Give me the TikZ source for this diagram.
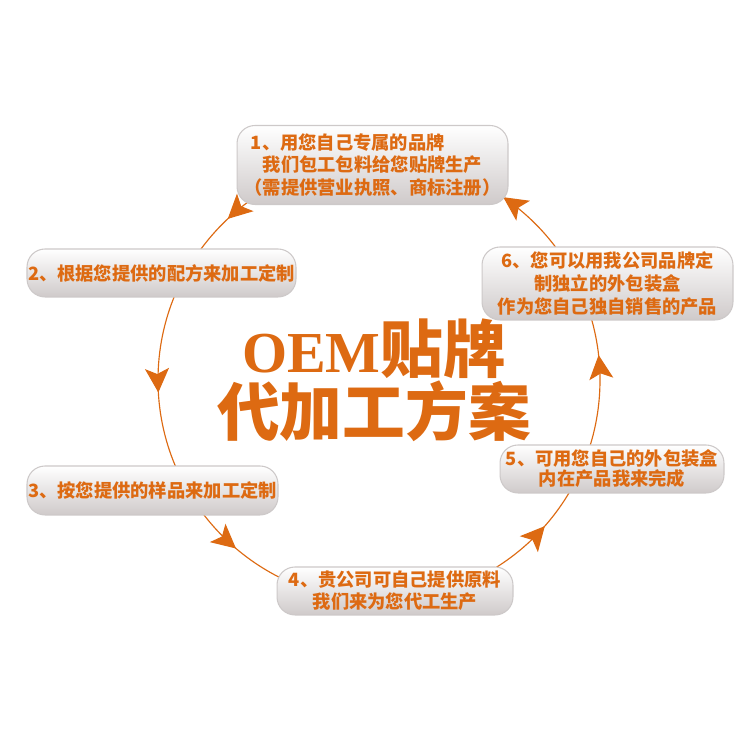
\documentclass[tikz,border=0pt]{standalone}
\usepackage{fontspec}
\setmainfont{Noto Sans CJK SC}
\newfontfamily\latinserif{Liberation Serif}
\usepackage{tikz}
\usetikzlibrary{positioning,arrows.meta,decorations.markings}
\definecolor{oemorange}{HTML}{DD6A12}
\definecolor{oemgray}{HTML}{CFCACA}
\definecolor{oemedge}{HTML}{CDC9C9}

\begin{document}
\begin{tikzpicture}[
    x=0.02cm, y=0.02cm,
    >={Stealth[length=0.48cm, width=0.48cm, inset=0.11cm]},
    % Estilos
    box/.style={draw=oemedge, line width=0.6pt, rounded corners=0.36cm, top color=white, bottom color=oemgray, inner sep=0pt, align=center, text=oemorange, font=\fontsize{10.4}{12.6}\selectfont\bfseries},
    ring/.style={draw=oemorange, line width=0.65pt},
    title/.style={text=oemorange, align=center, inner sep=0pt, font=\fontsize{35.7}{34.6}\selectfont\bfseries}
]
\useasboundingbox[fill=white] (0,0) rectangle (750,750);

% --- CIRCULO (conexiones) ---
\coordinate (c) at (379,370);
\draw[ring, postaction={decorate}, decoration={markings,
    mark=at position 0.018 with {\arrow[oemorange]{>}},
    mark=at position 0.155 with {\arrow[oemorange]{>}},
    mark=at position 0.370 with {\arrow[oemorange]{>}},
    mark=at position 0.509 with {\arrow[oemorange]{>}},
    mark=at position 0.638 with {\arrow[oemorange]{>}},
    mark=at position 0.885 with {\arrow[oemorange]{>}}}]
    (c) circle[radius=221];

% --- PASOS (nodos) ---
\node[box, minimum width=5.42cm, minimum height=1.58cm] (s1) at (372.5,585)
    {1、用您自己专属的品牌\hspace*{2.7em}\\我们包工包料给您贴牌生产\\（需提供营业执照、商标注册）};
\node[box, minimum width=5.38cm, minimum height=0.96cm] (s2) at (161.5,477)
    {2、根据您提供的配方来加工定制};
\node[box, minimum width=5.02cm, minimum height=0.98cm] (s3) at (152.5,259.5)
    {3、按您提供的样品来加工定制};
\node[box, minimum width=4.72cm, minimum height=0.96cm] (s4) at (395,159)
    {4、贵公司可自己提供原料\\我们来为您代工生产};
\node[box, minimum width=4.48cm, minimum height=0.96cm, font=\fontsize{10.4}{11.4}\selectfont\bfseries] (s5) at (612,281)
    {5、可用您自己的外包装盒\\内在产品我来完成};
\node[box, minimum width=5.02cm, minimum height=1.46cm, font=\fontsize{10.4}{13}\selectfont\bfseries] (s6) at (607.5,466.5)
    {6、您可以用我公司品牌定\\制独立的外包装盒\\作为您自己独自销售的产品};

% --- TITULO ---
\node[title] (t) at (374,370)
    {{\latinserif\fontsize{33}{34.6}\selectfont OEM}贴牌\\代加工方案};

\end{tikzpicture}
\end{document}
